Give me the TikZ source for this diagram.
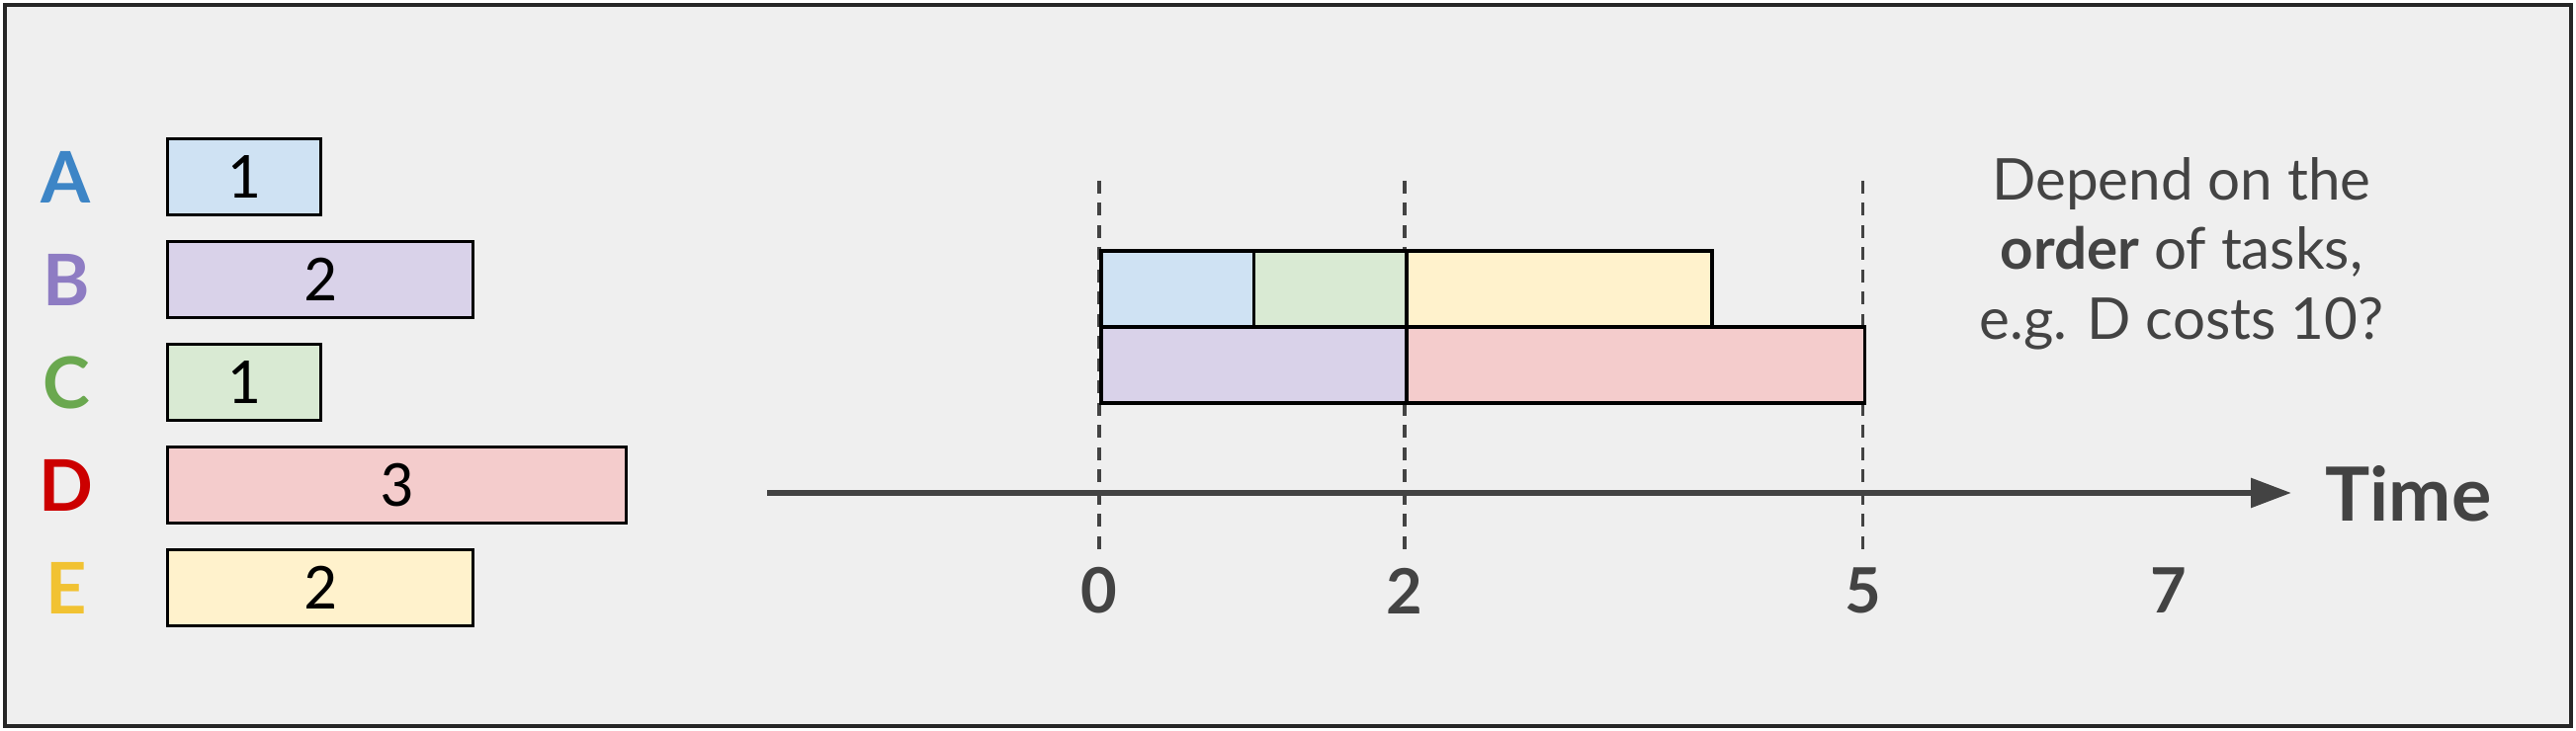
\documentclass[tikz,border=0pt]{standalone}
\usepackage{fontspec}
\setmainfont{Lato}
\newfontfamily\digitfont{Carlito}
\usetikzlibrary{arrows.meta}
\definecolor{inkgray}{HTML}{434343}
\definecolor{bggray}{HTML}{EFEFEF}
\definecolor{fillA}{HTML}{CFE2F3}
\definecolor{fillB}{HTML}{D9D2E9}
\definecolor{fillC}{HTML}{D9EAD3}
\definecolor{fillD}{HTML}{F4CCCC}
\definecolor{fillE}{HTML}{FFF2CC}
\definecolor{letA}{HTML}{3D85C6}
\definecolor{letB}{HTML}{8E7CC3}
\definecolor{letC}{HTML}{6AA84F}
\definecolor{letD}{HTML}{CC0000}
\definecolor{letE}{HTML}{F1C232}
\newcommand{\tu}{1.545cm}

\begin{document}
\begin{tikzpicture}[
    taskname/.style={inner sep=0pt,font=\fontsize{20.5}{24}\selectfont\bfseries},
    taskbox/.style={draw=black,line width=0.9pt,minimum height=0.77cm,anchor=west,inner sep=0pt,
      font=\digitfont\fontsize{19}{22}\selectfont},
    slot/.style={draw=black,line width=1.1pt,minimum height=0.77cm,anchor=south west,inner sep=0pt},
    guide/.style={inkgray,line width=0.9pt,dash pattern=on 3.6pt off 2.8pt},
    timeaxis/.style={inkgray,line width=1.7pt,-{Triangle[length=0.41cm,width=0.29cm]}},
    tick/.style={inkgray,inner sep=0pt,font=\fontsize{18}{21}\selectfont\bfseries},
    note/.style={inkgray,inner sep=0pt,anchor=base,font=\fontsize{16.6}{20}\selectfont}
  ]
    \useasboundingbox (0,0) rectangle (26.06,7.40);
    \draw[fill=bggray,draw=black!85,line width=0.9pt] (0.05,0.05) rectangle (26.01,7.35);

    \node[taskname,text=letA] (nA) at (0.67,5.61) {A};
    \node[taskname,text=letB] (nB) at (0.67,4.57) {B};
    \node[taskname,text=letC] (nC) at (0.67,3.53) {C};
    \node[taskname,text=letD] (nD) at (0.67,2.49) {D};
    \node[taskname,text=letE] (nE) at (0.67,1.45) {E};

    \node[taskbox,fill=fillA,minimum width=\tu] (tA) at (1.68,5.61) {1};
    \node[taskbox,fill=fillB,minimum width=2*\tu] (tB) at (1.68,4.57) {2};
    \node[taskbox,fill=fillC,minimum width=\tu] (tC) at (1.68,3.53) {1};
    \node[taskbox,fill=fillD,minimum width=3*\tu] (tD) at (1.68,2.49) {3};
    \node[taskbox,fill=fillE,minimum width=2*\tu] (tE) at (1.68,1.45) {2};

    \coordinate (g0top) at (11.12,5.57);
    \coordinate (g0bot) at (11.12,1.80);
    \coordinate (g2top) at (14.21,5.57);
    \coordinate (g2bot) at (14.21,1.80);
    \coordinate (g5top) at (18.845,5.57);
    \coordinate (g5bot) at (18.845,1.80);
    \draw[guide] (g0top) -- (g0bot);
    \draw[guide] (g2top) -- (g2bot);
    \draw[guide] (g5top) -- (g5bot);

    \node[slot,fill=fillA,minimum width=\tu] (sA) at (11.12,4.07) {};
    \node[slot,fill=fillC,minimum width=\tu] (sC) at (12.665,4.07) {};
    \node[slot,fill=fillE,minimum width=2*\tu] (sE) at (14.21,4.07) {};
    \node[slot,fill=fillB,minimum width=2*\tu] (sB) at (11.12,3.30) {};
    \node[slot,fill=fillD,minimum width=3*\tu] (sD) at (14.21,3.30) {};

    \coordinate (axstart) at (7.76,2.41);
    \coordinate (axend) at (23.18,2.41);
    \draw[timeaxis] (axstart) -- (axend);
    \node[inkgray,inner sep=0pt,anchor=west,font=\fontsize{21.5}{25}\selectfont\bfseries] (timelabel) at (23.52,2.40) {Time};

    \node[tick] (k0) at (11.12,1.42) {0};
    \node[tick] (k2) at (14.21,1.42) {2};
    \node[tick] (k5) at (18.845,1.42) {5};
    \node[tick] (k7) at (21.935,1.42) {7};

    \node[note] (note1) at (22.07,5.37) {Depend on the};
    \node[note] (note2) at (22.07,4.67) {\textbf{order} of tasks,};
    \node[note] (note3) at (22.07,3.96) {e.g. D costs 10?};
  \end{tikzpicture}
\end{document}
